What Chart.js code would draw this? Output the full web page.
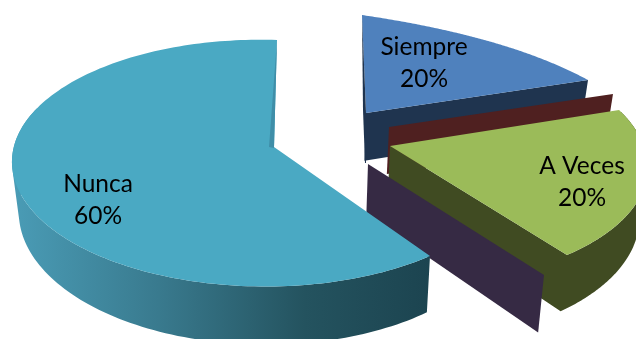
<!DOCTYPE html>
<html><head><meta charset="utf-8">
<style>html,body{margin:0;padding:0;background:#fff}#w{width:636px;height:339px;position:relative}</style>
<script src="https://cdn.jsdelivr.net/npm/chart.js@4"></script>
</head><body><div id="w"><canvas id="c" width="636" height="339"></canvas></div>
<script>
const categories = ["Siempre","Casi Siempre","A Veces","Casi Nunca","Nunca"];
const values = [20,0,20,0,60];
const percentLabels = ["20%","","20%","","60%"];
const topColors = ["#4f81bd","#c0504d","#9bbb59","#8064a2","#4aa9c3"];
const wallColors = ["#1f344f","#4f2020","#404b22","#362a44",null];

// Where each exploded slice lands on the picture (apex, first, middle and last rim point)
const placement = [
 {a:[366,113],s:[362,15],m:[495,43],e:[588,80],label:[424,47]},
 {a:[389,127],e:[613,94],depth:47},
 {a:[390,146],s:[619,110],m:[645,185],e:[567,255],label:[582,166]},
 {a:[368,164],e:[544,275]},
 {a:[274,147],s:[430,256],m:[16,184],e:[277,40],label:[98,184]}
];
const slivers = {0:{pts:[[362,15],[366,113],[366,163],[365,163],[363,110]],c:"#1f344f"},
                 4:{pts:[[277,40],[274,148],[269,147]],c:"#3f8ea8"}};

function solve(A,b){const n=b.length;const M=A.map((r,i)=>[...r,b[i]]);
 for(let i=0;i<n;i++){let p=i;for(let k=i+1;k<n;k++)if(Math.abs(M[k][i])>Math.abs(M[p][i]))p=k;
  [M[i],M[p]]=[M[p],M[i]];
  for(let k=0;k<n;k++){if(k===i)continue;const f=M[k][i]/M[i][i];for(let j=i;j<=n;j++)M[k][j]-=f*M[i][j];}}
 return M.map((r,i)=>r[n]/r[i]);}
function homography(src,dst){const A=[],b=[];
 src.forEach(([u,v],i)=>{const [x,y]=dst[i];
  A.push([u,v,1,0,0,0,-u*x,-v*x]);b.push(x);
  A.push([0,0,0,u,v,1,-u*y,-v*y]);b.push(y);});
 const h=solve(A,b);
 return (u,v)=>{const w=h[6]*u+h[7]*v+1;return [(h[0]*u+h[1]*v+h[2])/w,(h[3]*u+h[4]*v+h[5])/w];};}
const lower=(p,extra)=>{const d=extra!==undefined?extra:50+(p[1]-150)*0.06;return [p[0]+(300-p[0])*0.024,p[1]+d];};
function area(pts){let s=0;pts.forEach((p,i)=>{const q=pts[(i+1)%pts.length];s+=p[0]*q[1]-q[0]*p[1];});return s;}
function trace(ctx,pts){const o=area(pts)<0?pts.slice().reverse():pts;o.forEach((p,i)=>i?ctx.lineTo(p[0],p[1]):ctx.moveTo(p[0],p[1]));ctx.closePath();}
function poly(ctx,pts,fill){ctx.beginPath();trace(ctx,pts);ctx.fillStyle=fill;ctx.fill();}

const pie3d={id:'pie3d',
 beforeDatasetDraw(chart,args){
  const ctx=chart.ctx, arcs=chart.getDatasetMeta(args.index).data;
  arcs.forEach((arc,i)=>{
   const P=placement[i], s0=arc.startAngle, e0=arc.endAngle;
   if(e0-s0<1e-6){ // empty slice: only its radial wall shows
     const d=P.depth;
     poly(ctx,[P.a,P.e,lower(P.e,d),lower(P.a,d)],wallColors[i]);
     return;
   }
   const uv=t=>[Math.cos(t),Math.sin(t)];
   const H=homography([[0,0],uv(s0),uv((s0+e0)/2),uv(e0)],[P.a,P.s,P.m,P.e]);
   const N=160, rim=[], front=[];
   for(let k=0;k<=N;k++){const t=s0+(e0-s0)*k/N;rim.push(H(...uv(t)));front.push(Math.sin(t)>-0.3);}
   let fill=wallColors[i];
   if(!fill){fill=ctx.createLinearGradient(12,0,430,0);
     fill.addColorStop(0,"#4a9cb6");fill.addColorStop(.35,"#397a8e");
     fill.addColorStop(.7,"#24535f");fill.addColorStop(1,"#1c4450");}
   ctx.beginPath();
   if(wallColors[i]) trace(ctx,[P.e,P.a,lower(P.a),lower(P.e)]);
   for(let k=0;k<N;k++){ if(!front[k]||!front[k+1]) continue;
     trace(ctx,[rim[k],rim[k+1],lower(rim[k+1]),lower(rim[k])]);}
   ctx.fillStyle=fill;ctx.fill('nonzero');
   poly(ctx,[P.a,...rim],topColors[i]);
   if(slivers[i]) poly(ctx,slivers[i].pts,slivers[i].c);
  });
  ctx.save();ctx.fillStyle="#000";ctx.font="24.5px Lato";ctx.textAlign="center";ctx.textBaseline="middle";
  arcs.forEach((arc,i)=>{const P=placement[i];if(!P.label)return;
   ctx.fillText(categories[i],P.label[0],P.label[1]);
   ctx.fillText(percentLabels[i],P.label[0],P.label[1]+32);});
  ctx.restore();
  return false;
 }};

new Chart(document.getElementById('c'),{type:'pie',
 data:{labels:categories,datasets:[{data:values,backgroundColor:topColors,borderWidth:0}]},
 options:{responsive:false,animation:false,layout:{padding:0},
  plugins:{legend:{display:false},tooltip:{enabled:false},title:{display:false}}},
 plugins:[pie3d]});
</script></body></html>
